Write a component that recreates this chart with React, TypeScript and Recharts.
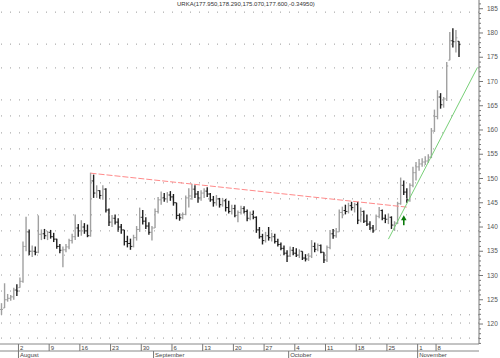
import React from "react";
import { ComposedChart, Bar, XAxis, YAxis, ReferenceLine, ReferenceDot } from "recharts";

const title = "URKA(177.950,178.290,175.070,177.600,-0.34950)";

// two bars per trading day, Jul 28 .. Nov 11
const lows = [
  121.9, 123.3, 124.6, 124.8, 125.0, 125.8, 127.5, 128.5, 135.0, 134.2,
  133.8, 134.2, 134.6, 137.3, 137.5, 137.3, 137.6, 136.9, 135.5, 134.6,
  131.7, 134.8, 135.4, 136.6, 137.3, 138.0, 138.2, 138.6, 137.9, 138.0,
  146.0, 146.0, 145.8, 145.6, 143.0, 140.2, 140.0, 140.5, 139.0, 138.6,
  136.2, 135.8, 135.3, 135.8, 137.2, 139.0, 140.5, 139.6, 138.4, 137.2,
  139.8, 142.8, 144.6, 145.2, 145.0, 145.4, 144.4, 141.6, 141.3, 141.6,
  142.4, 144.0, 145.6, 146.0, 145.0, 145.4, 146.0, 146.2, 145.2, 144.2,
  144.4, 144.0, 144.2, 143.2, 142.8, 142.6, 142.0, 141.0, 142.6, 142.8,
  141.2, 141.4, 141.6, 138.8, 137.6, 136.4, 136.8, 137.2, 137.0, 136.6,
  136.0, 135.2, 134.2, 132.8, 133.8, 134.2, 133.8, 133.6, 133.2, 132.9,
  133.0, 133.6, 134.8, 135.0, 134.6, 132.6, 132.8, 135.4, 137.6, 137.8,
  139.0, 141.8, 142.6, 142.8, 143.4, 143.0, 140.6, 141.0, 140.8, 140.2,
  139.4, 138.8, 139.4, 141.8, 141.4, 140.8, 140.6, 139.6, 139.2, 140.6,
  144.6, 146.6, 145.0, 145.2, 148.2, 149.6, 151.6, 152.4, 152.8, 153.2,
  154.2, 159.6, 162.2, 164.4, 164.6, 166.0, 174.4, 177.0, 176.0, 175.07,
];
const highs = [
  124.3, 128.4, 126.2, 126.0, 127.5, 128.2, 129.6, 137.0, 142.1, 139.5,
  136.2, 136.0, 142.4, 139.5, 139.6, 139.2, 139.4, 138.8, 137.6, 136.5,
  136.0, 136.5, 137.6, 138.6, 142.6, 140.6, 141.4, 140.8, 140.5, 151.2,
  150.8, 148.6, 147.6, 148.6, 148.0, 143.8, 142.5, 142.6, 141.8, 140.6,
  139.4, 138.2, 137.6, 138.4, 140.2, 144.0, 143.5, 142.0, 141.0, 140.2,
  143.8, 146.2, 147.3, 147.0, 147.2, 147.4, 146.8, 145.0, 142.8, 143.0,
  146.5, 148.0, 148.9, 148.6, 147.4, 147.6, 148.0, 148.2, 147.0, 146.4,
  146.6, 146.0, 146.0, 145.8, 145.4, 144.6, 144.6, 143.4, 144.4, 144.3,
  143.6, 143.2, 143.4, 142.2, 140.0, 138.6, 139.0, 140.0, 138.8, 138.6,
  137.6, 136.8, 136.2, 135.2, 136.0, 135.9, 135.6, 135.4, 135.0, 134.4,
  134.6, 137.3, 136.8, 136.6, 136.4, 134.8, 136.2, 139.4, 139.6, 139.8,
  143.6, 144.2, 144.6, 145.0, 145.2, 145.0, 145.2, 144.0, 143.4, 142.6,
  141.2, 140.4, 142.6, 144.1, 143.6, 142.6, 142.8, 142.2, 141.2, 145.2,
  150.2, 149.6, 148.0, 149.0, 152.4, 153.4, 154.0, 154.2, 154.6, 155.0,
  160.4, 164.2, 168.2, 167.6, 166.8, 174.0, 180.2, 181.0, 180.6, 178.29,
];
const closes = [
  123.0, 125.0, 125.3, 125.6, 127.0, 126.8, 128.8, 136.0, 139.0, 135.0,
  135.0, 134.8, 138.5, 138.6, 138.2, 138.9, 138.0, 137.5, 136.0, 135.2,
  135.3, 135.9, 137.2, 138.0, 139.8, 139.2, 140.0, 139.2, 138.2, 149.5,
  147.0, 147.5, 146.5, 147.8, 143.5, 141.0, 141.8, 141.0, 140.0, 139.4,
  137.0, 136.6, 136.0, 137.8, 139.5, 142.0, 141.2, 140.2, 138.9, 139.8,
  143.2, 145.6, 146.0, 145.8, 146.6, 146.2, 145.0, 142.4, 141.9, 142.6,
  146.0, 146.4, 147.8, 146.8, 146.0, 147.0, 147.4, 146.8, 145.6, 145.0,
  145.8, 144.6, 145.4, 144.0, 143.2, 143.8, 142.4, 143.0, 143.8, 143.2,
  141.8, 142.6, 142.0, 139.4, 138.0, 137.2, 138.2, 137.8, 138.0, 137.0,
  136.4, 135.6, 134.6, 134.0, 135.2, 134.6, 134.2, 135.0, 133.6, 133.4,
  134.0, 136.0, 135.4, 136.2, 134.8, 133.2, 135.8, 138.6, 138.2, 139.0,
  143.0, 143.4, 143.2, 144.4, 144.0, 144.6, 141.4, 143.2, 141.2, 140.6,
  139.8, 139.2, 142.2, 143.4, 141.8, 141.6, 142.0, 140.4, 140.8, 144.8,
  148.6, 147.2, 145.6, 148.6, 151.2, 152.4, 153.0, 153.4, 153.6, 154.4,
  159.8, 162.8, 166.8, 165.2, 166.4, 173.2, 178.4, 178.2, 179.0, 177.6,
];
const EMPTY_SLOTS = 6;

const weekLabels = ["2", "9", "16", "23", "30", "6", "13", "20", "27", "4", "11", "18", "25", "1", "8"];
const weekDays = [3, 8, 13, 18, 23, 28, 33, 38, 43, 48, 53, 58, 63, 68, 71];
const monthLabels = ["August", "September", "October", "November"];
const monthDays = [3, 25, 47, 68];
const yLabels = [120, 125, 130, 135, 140, 145, 150, 155, 160, 165, 170, 175, 180, 185];
const yDomain = [115.88, 186.8];
const gridLevels = [184.3, 177.7, 172.8, 166.2, 162.9, 159.4, 156.1, 152.6, 149.1, 145.8, 142.5, 139.2, 134.2, 130.1, 126.8, 121.9, 120.2, 117.1];

const resistance = [{ bar: 29, v: 151.1 }, { bar: 132, v: 144.1 }];
const support = [{ bar: 126, v: 137.5 }, { bar: 155, v: 172.9 }];
const arrowPoint = { bar: 131, v: 141.4 };

const data: any[] = [];
for (let i = 0; i < lows.length + EMPTY_SLOTS; i++) {
  if (i < lows.length) {
    data.push({
      i,
      range: [lows[i], highs[i]],
      lo: lows[i],
      hi: highs[i],
      c: closes[i],
      o: i > 0 ? closes[i - 1] : closes[i],
    });
  } else {
    data.push({ i });
  }
}

const yTicks: number[] = [];
for (let v = Math.ceil(yDomain[0]); v <= Math.floor(yDomain[1]); v++) yTicks.push(v);

const FONT = "'Liberation Sans', Arial, sans-serif";

const OhlcShape = (props: any) => {
  const { x, y, width, height, payload } = props;
  if (!payload || payload.hi == null) return null;
  const cx = x + width / 2;
  const top = Math.min(y, y + height);
  const h = Math.abs(height);
  const up = payload.c >= payload.o;
  const color = up ? "#a0a0a0" : "#1e1e1e";
  const span = payload.hi - payload.lo || 1;
  const cy = top + ((payload.hi - payload.c) / span) * h;
  const oy = top + ((payload.hi - Math.min(payload.hi, Math.max(payload.lo, payload.o))) / span) * h;
  return (
    <g>
      <line x1={cx} x2={cx} y1={top} y2={top + h} stroke={color} strokeWidth={1.4} />
      <line x1={cx - 1.5} x2={cx} y1={oy} y2={oy} stroke={color} strokeWidth={1} />
      <line x1={cx} x2={cx + 1.5} y1={cy} y2={cy} stroke={color} strokeWidth={1} />
    </g>
  );
};

const YTick = (p: any) => {
  const v = p.payload.value;
  const major = yLabels.includes(v);
  return (
    <g>
      <line x1={p.x} x2={p.x + (major ? 4 : 2)} y1={p.y} y2={p.y} stroke="#777" strokeWidth={1} />
      {major && (
        <text x={p.x + 8} y={p.y + 2.2} fontSize={6.5} fill="#555" fontFamily={FONT}>
          {v}
        </text>
      )}
    </g>
  );
};

const DayTick = (p: any) => {
  const slot = p.payload.value;
  const idx = weekDays.indexOf(slot / 2);
  const lx = p.x - 1.5;
  return (
    <g>
      <line x1={lx} x2={lx} y1={p.y} y2={p.y + 7} stroke="#777" strokeWidth={1} />
      <text x={lx + 1.5} y={p.y + 6} fontSize={6} fill="#444" fontFamily={FONT}>
        {idx >= 0 ? weekLabels[idx] : ""}
      </text>
    </g>
  );
};

const MonthTick = (p: any) => {
  const slot = p.payload.value;
  const idx = monthDays.indexOf(slot / 2);
  const lx = p.x - 1.5;
  return (
    <g>
      <line x1={lx} x2={lx} y1={p.y} y2={p.y + 7} stroke="#777" strokeWidth={1} />
      <text x={lx + 1.5} y={p.y + 6} fontSize={6} fill="#444" fontFamily={FONT}>
        {idx >= 0 ? monthLabels[idx] : ""}
      </text>
    </g>
  );
};

const ArrowShape = (p: any) => {
  const { cx, cy } = p;
  return (
    <g>
      <line x1={cx} x2={cx} y1={cy - 1} y2={cy + 5} stroke="#0a7a0a" strokeWidth={1.6} />
      <polygon points={`${cx - 2.8},${cy} ${cx + 2.8},${cy} ${cx},${cy - 5}`} fill="#0a7a0a" />
    </g>
  );
};

export default function App() {
  return (
    <div style={{ position: "relative", width: 500, height: 358, background: "#fff" }}>
      <style>{"body{margin:0;background:#fff}"}</style>
      <ComposedChart
        width={500}
        height={358}
        data={data}
        margin={{ top: 0, right: 0, bottom: 0, left: 0 }}
        barCategoryGap={0}
      >
        <XAxis
          xAxisId="day"
          dataKey="i"
          type="category"
          ticks={weekDays.map((d) => d * 2)}
          interval={0}
          tick={<DayTick />}
          tickSize={0}
          tickMargin={0}
          tickLine={false}
          axisLine={{ stroke: "#888" }}
          height={7}
        />
        <XAxis
          xAxisId="month"
          dataKey="i"
          type="category"
          ticks={monthDays.map((d) => d * 2)}
          interval={0}
          tick={<MonthTick />}
          tickSize={0}
          tickMargin={0}
          tickLine={false}
          axisLine={{ stroke: "#888" }}
          height={7}
        />
        <YAxis
          orientation="right"
          type="number"
          domain={yDomain}
          allowDataOverflow
          width={21}
          ticks={yTicks}
          interval={0}
          tick={<YTick />}
          tickSize={0}
          tickMargin={0}
          tickLine={false}
          axisLine={{ stroke: "#777" }}
        />
        {gridLevels.map((g) => (
          <ReferenceLine key={g} xAxisId="day" y={g} stroke="#9a9a9a" strokeDasharray="1 8" />
        ))}
        <Bar xAxisId="day" dataKey="range" shape={<OhlcShape />} isAnimationActive={false} />
        <ReferenceLine
          xAxisId="day"
          segment={[{ x: resistance[0].bar, y: resistance[0].v }, { x: resistance[1].bar, y: resistance[1].v }]}
          stroke="#ff8a8a"
          strokeDasharray="6 2"
          strokeWidth={1}
        />
        <ReferenceLine
          xAxisId="day"
          segment={[{ x: support[0].bar, y: support[0].v }, { x: support[1].bar, y: support[1].v }]}
          stroke="#78d078"
          strokeWidth={1}
        />
        <ReferenceDot xAxisId="day" x={arrowPoint.bar} y={arrowPoint.v} shape={<ArrowShape />} />
      </ComposedChart>
      <div
        style={{
          position: "absolute",
          left: 177,
          top: 0,
          fontSize: 6,
          lineHeight: "8px",
          fontFamily: FONT,
          color: "#333",
          whiteSpace: "nowrap",
        }}
      >
        {title}
      </div>
    </div>
  );
}
